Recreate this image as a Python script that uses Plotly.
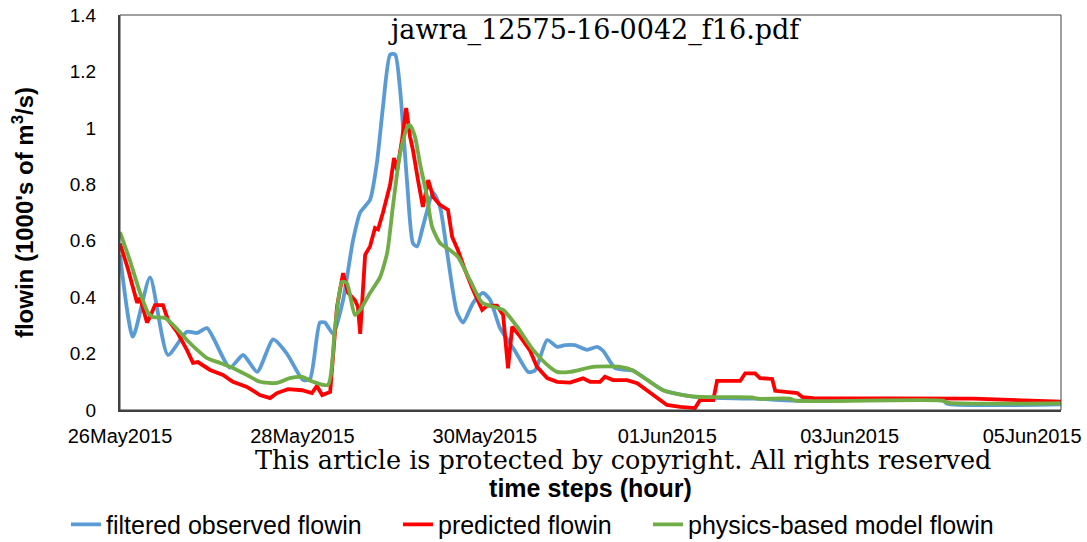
import pandas as pd
import plotly.graph_objects as go

# Hourly flow-in series, 26 May 2015 00:00 onward (hours since start, 1000's of m^3/s)
start = pd.Timestamp("2015-05-26 00:00")

obs_hours = [0, 3.4, 7.9, 12.6, 17.6, 20.3, 22.9, 28.9, 32.4, 36.1, 40.3, 43.9, 48.2, 50.0,
             52.6, 53.9, 56.1, 58.7, 61.3, 63.2, 65.8, 67.6, 69.2, 71.1, 72.4, 73.7, 75.5,
             77.1, 78.2, 79.7, 82.4, 84.2, 86.1, 88.7, 90.3, 92.9, 95.5, 97.4, 100.0, 103.9,
             107.4, 109.2, 112.4, 115.0, 117.1, 119.7, 122.9, 125.5, 127.1, 130.3, 133.4,
             135.0, 142.9, 148.2, 152.6, 167.6, 177.6, 216.6, 217.6, 247.6]
obs_flow = [0.55, 0.26, 0.47, 0.195, 0.277, 0.273, 0.29, 0.15, 0.195, 0.135, 0.25, 0.2, 0.106,
            0.11, 0.31, 0.31, 0.27, 0.39, 0.60, 0.70, 0.745, 0.876, 1.075, 1.26, 1.26, 1.135,
            0.815, 0.59, 0.58, 0.65, 0.77, 0.72, 0.556, 0.344, 0.31, 0.38, 0.415, 0.39, 0.29,
            0.21, 0.135, 0.14, 0.248, 0.224, 0.23, 0.23, 0.213, 0.224, 0.21, 0.148, 0.142,
            0.14, 0.07, 0.053, 0.045, 0.04, 0.033, 0.033, 0.022, 0.02]

pred_hours = [0, 2.1, 4.5, 5.3, 7.1, 7.9, 9.2, 11.3, 12.6, 15.0, 17.6, 19.2, 20.5, 23.7, 27.1,
              29.7, 33.4, 36.8, 39.5, 41.3, 44.2, 47.9, 50.5, 51.8, 53.2, 55.3, 57.1, 58.7,
              60.0, 61.8, 62.6, 63.2, 64.5, 65.8, 67.1, 67.9, 69.2, 71.1, 72.1, 72.9, 74.2,
              75.3, 76.3, 77.1, 78.4, 79.7, 81.1, 82.4, 84.2, 86.3, 87.4, 88.9, 90.8, 92.9,
              95.3, 96.6, 99.2, 100.8, 102.1, 103.2, 105.3, 107.9, 109.7, 112.4, 115.0, 118.4,
              121.8, 123.7, 126.3, 127.6, 129.7, 133.4, 136.1, 139.5, 143.9, 147.4, 151.3,
              152.6, 156.1, 157.1, 163.2, 164.5, 167.1, 168.4, 171.6, 172.4, 178.2, 179.5,
              182.4, 224.5, 236.8, 247.6]
pred_flow = [0.59, 0.5, 0.38, 0.397, 0.31, 0.33, 0.372, 0.372, 0.32, 0.277, 0.213, 0.167, 0.17,
             0.142, 0.124, 0.1, 0.082, 0.053, 0.042, 0.06, 0.074, 0.07, 0.06, 0.085, 0.053,
             0.064, 0.366, 0.485, 0.415, 0.39, 0.366, 0.27, 0.55, 0.58, 0.645, 0.64, 0.70, 0.80,
             0.893, 0.85, 0.957, 1.07, 0.97, 0.92, 0.815, 0.72, 0.815, 0.755, 0.727, 0.709,
             0.613, 0.567, 0.496, 0.425, 0.355, 0.37, 0.37, 0.337, 0.148, 0.295, 0.26, 0.21,
             0.153, 0.113, 0.1, 0.097, 0.112, 0.1, 0.1, 0.118, 0.106, 0.106, 0.095, 0.06, 0.018,
             0.011, 0.007, 0.035, 0.035, 0.103, 0.103, 0.13, 0.13, 0.113, 0.11, 0.068, 0.06,
             0.046, 0.042, 0.04, 0.033, 0.03]

phys_hours = [0, 2.6, 5.3, 7.4, 8.7, 11.8, 14.5, 17.6, 20.3, 22.9, 26.3, 29.7, 33.4, 36.8,
              41.3, 44.7, 47.9, 50.8, 54.7, 56.6, 58.4, 59.7, 61.8, 63.2, 65.8, 68.4, 70.3,
              71.8, 73.7, 75.5, 76.3, 77.6, 78.9, 80.8, 82.1, 84.2, 86.8, 88.9, 92.1, 95.3,
              98.2, 100.8, 104.5, 108.7, 112.4, 115.0, 118.4, 124.5, 131.6, 134.7, 142.9,
              148.2, 152.6, 166.3, 167.6, 176.3, 177.6, 216.6, 217.6, 247.6]
phys_flow = [0.63, 0.53, 0.415, 0.344, 0.33, 0.326, 0.295, 0.248, 0.213, 0.184, 0.167, 0.149,
             0.124, 0.1, 0.096, 0.113, 0.117, 0.1, 0.089, 0.295, 0.454, 0.45, 0.337, 0.355,
             0.415, 0.47, 0.557, 0.72, 0.91, 1.0, 1.01, 0.97, 0.876, 0.755, 0.65, 0.592, 0.567,
             0.543, 0.46, 0.38, 0.366, 0.355, 0.295, 0.213, 0.16, 0.135, 0.135, 0.153, 0.153,
             0.142, 0.07, 0.053, 0.046, 0.045, 0.04, 0.04, 0.033, 0.033, 0.026, 0.024]

tick_hours = [0, 48, 96, 144, 192, 240]
tick_labels = ["26May2015", "28May2015", "30May2015", "01Jun2015", "03Jun2015", "05Jun2015"]


def to_time(hours):
    return [start + pd.Timedelta(hours=h) for h in hours]


sans = "Liberation Sans, Arial, sans-serif"
serif = "DejaVu Serif, serif"

# name, hours, values, colour, line shape, legend id, legend left edge (paper x)
series = [
    ("filtered observed flowin", obs_hours, obs_flow, "#5B9BD5", "spline", "legend", -0.0574),
    ("predicted flowin", pred_hours, pred_flow, "#FF0000", "linear", "legend2", 0.2954),
    ("physics-based model flowin", phys_hours, phys_flow, "#70AD47", "spline", "legend3", 0.5611),
]

fig = go.Figure()
legend_layouts = {}
for name, hrs, vals, color, shape, leg, lx in series:
    fig.add_trace(go.Scatter(
        x=to_time(hrs), y=vals, name=name, mode="lines", legend=leg,
        line=dict(color=color, width=3.8, shape=shape, smoothing=0.6 if shape == "spline" else None),
    ))
    legend_layouts[leg] = dict(
        orientation="h", x=lx, y=-0.29, xanchor="left", yanchor="middle",
        font=dict(family=sans, size=25, color="black"),
        itemwidth=30, bgcolor="rgba(0,0,0,0)",
    )

fig.update_layout(
    width=1087, height=542,
    margin=dict(l=120, r=26, t=15, b=132, autoexpand=False),
    paper_bgcolor="white", plot_bgcolor="white",
    showlegend=True,
    xaxis=dict(
        range=[start, start + pd.Timedelta(hours=247.6)],
        tickvals=to_time(tick_hours), ticktext=tick_labels,
        tickfont=dict(family=sans, size=20, color="black"),
        showgrid=False, zeroline=False, automargin=False,
        showline=True, linecolor="#404040", linewidth=2,
        ticks="", ticklabelstandoff=7,
        title=dict(text="<b>time steps (hour)</b>", font=dict(family=sans, size=25, color="black"),
                   standoff=33),
    ),
    yaxis=dict(
        range=[0, 1.4], dtick=0.2,
        tickfont=dict(family=sans, size=19, color="black"),
        showgrid=False, zeroline=False, automargin=False,
        showline=True, linecolor="#404040", linewidth=2,
        ticks="", ticklabelstandoff=18,
        title=dict(text="<b>flowin (1000's of m<sup>3</sup>/s)</b>",
                   font=dict(family=sans, size=24, color="black"), standoff=29),
    ),
    shapes=[dict(type="rect", xref="paper", yref="paper", x0=0, y0=0, x1=1, y1=1,
                 line=dict(color="#404040", width=1))],
    annotations=[
        dict(text="jawra_12575-16-0042_f16.pdf", xref="paper", yref="paper",
             x=(594 - 120) / 941, y=(410 - 30) / 395, xanchor="center", yanchor="middle",
             showarrow=False, font=dict(family=serif, size=27, color="black")),
        dict(text="This article is protected by copyright. All rights reserved",
             xref="paper", yref="paper", x=(623 - 120) / 941, y=(410 - 460) / 395,
             xanchor="center", yanchor="middle", showarrow=False, borderpad=0,
             font=dict(family=serif, size=25.5, color="black")),
    ],
    **legend_layouts,
)

fig.write_html("out.html")
